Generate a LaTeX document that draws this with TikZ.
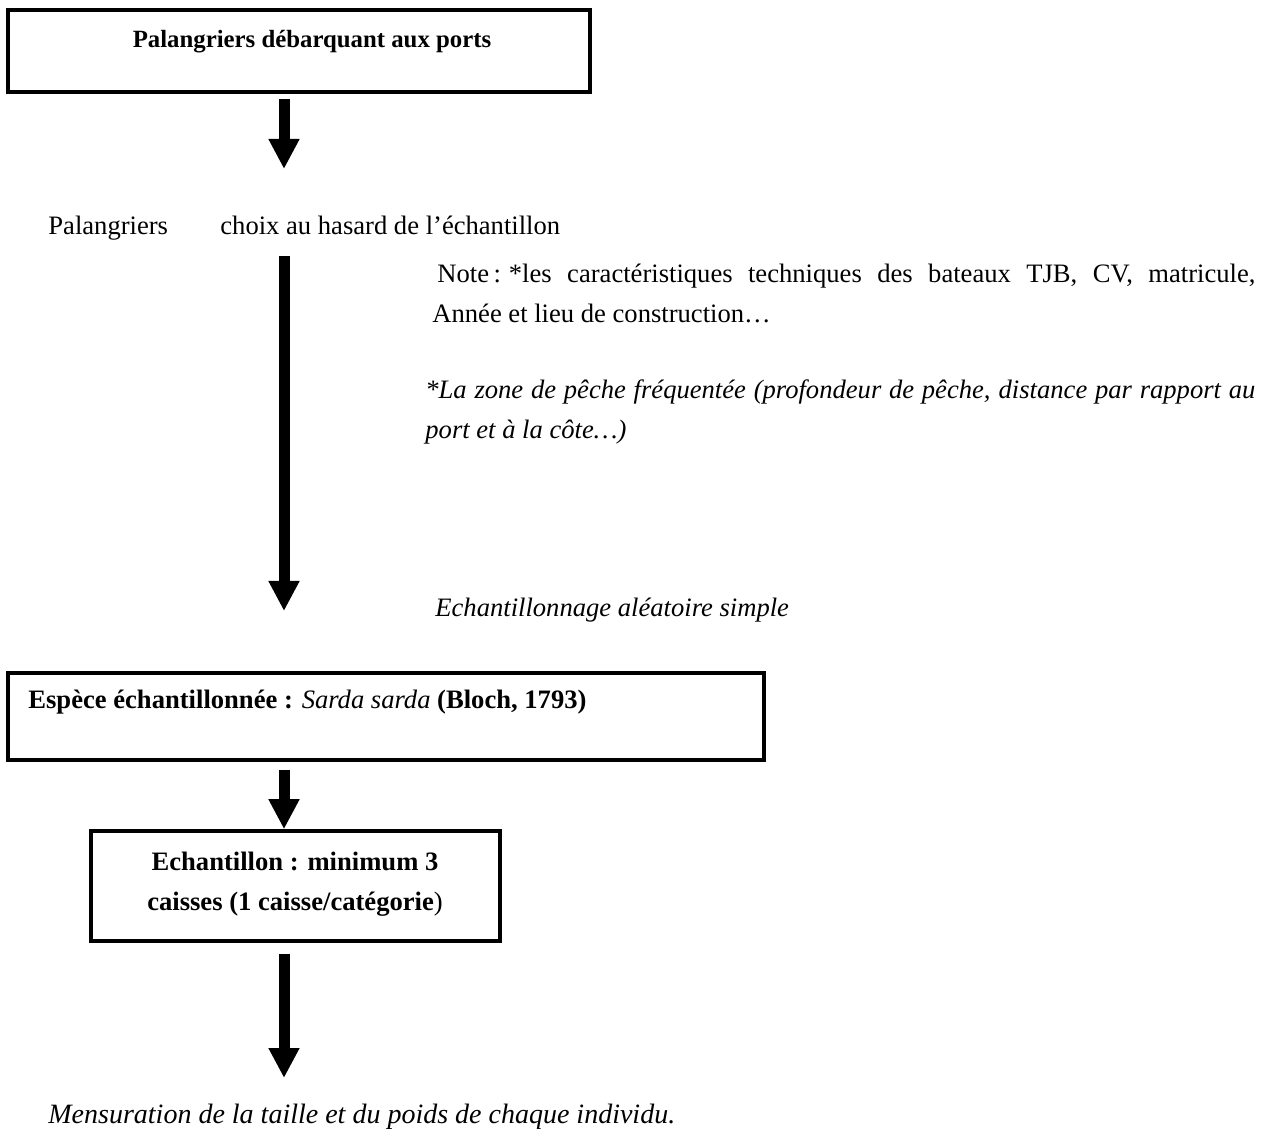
\documentclass[tikz,border=0pt]{standalone}
\usepackage{fontspec}
\setmainfont{Liberation Serif}
\usetikzlibrary{arrows.meta}
\tikzset{
  box/.style={draw, line width=1.8pt, inner sep=0pt},
  flow/.style={line width=5.5pt, -{Triangle[width=14.5pt,length=15pt]}},
  txt/.style={inner sep=0pt, anchor=base west},
}
\begin{document}
\begin{tikzpicture}[x=0.5pt, y=-0.5pt, font=\fontsize{13.3}{20}\selectfont]
    \useasboundingbox (0,0) rectangle (1269,1133);
    % boites
    \node[box, minimum width=291pt, minimum height=41pt] (ports) at (299,51) {};
    \node[box, minimum width=378pt, minimum height=43.5pt] (espece) at (386,716.5) {};
    \node[box, minimum width=204.5pt, minimum height=55pt] (echant) at (295.5,886) {};
    % textes
    \node[inner sep=0pt, anchor=base] (titre) at (312,48)
        {\fontsize{12.4}{20}\selectfont\textbf{Palangriers débarquant aux ports}};
    \node[txt] (palang) at (48,235) {Palangriers};
    \node[txt] (choix) at (220,235) {choix au hasard de l’échantillon};
    \node[txt, text width=411.5pt, align=justify] (note) at (432,283)
        {\hspace{2.5pt}Note\,:\hspace{4pt}*les caractéristiques techniques des bateaux TJB, CV, matricule,\linebreak Année et lieu de construction…};
    \node[txt, text width=415pt, align=justify] (zone) at (425,399)
        {\itshape *La zone de pêche fréquentée (profondeur de pêche, distance par rapport au\linebreak port et à la côte…)};
    \node[txt] (aleat) at (435,617) {\itshape Echantillonnage aléatoire simple};
    \node[txt] (espt) at (28,708) {\textbf{Espèce échantillonnée :} \textit{Sarda sarda} \textbf{(Bloch, 1793)}};
    \node[inner sep=0pt, anchor=base, align=center] (echt) at (295,910)
        {\textbf{Echantillon : minimum 3}\\\textbf{caisses (1 caisse/catégorie})};
    \node[txt] (mesure) at (48,1123)
        {\fontsize{14}{20}\selectfont\itshape Mensuration de la taille et du poids de chaque individu.};
    % fleches
    \coordinate (f1) at (284,169);
    \coordinate (f2a) at (284,256);
    \coordinate (f2) at (284,611);
    \coordinate (f4) at (284,1078);
    \draw[flow, shorten <=2.5pt] (ports.south -| f1) -- (f1);
    \draw[flow] (f2a) -- (f2);
    \draw[flow, shorten <=4pt] (espece.south -| f1) -- (echant.north -| f1);
    \draw[flow, shorten <=5.5pt] (echant.south -| f1) -- (f4);
\end{tikzpicture}
\end{document}
